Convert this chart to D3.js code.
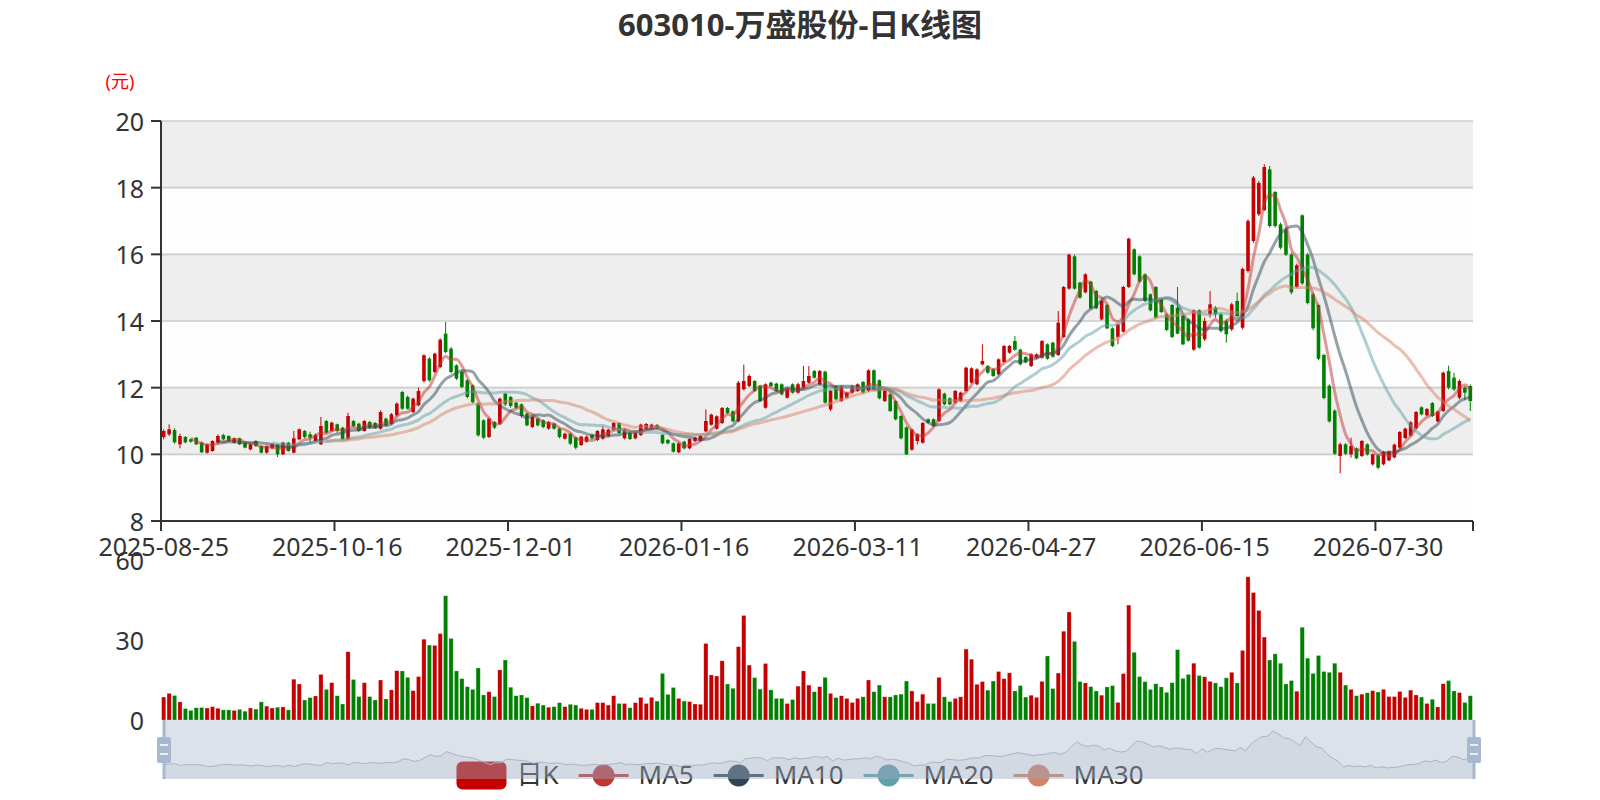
<!DOCTYPE html>
<html>
<head>
<meta charset="utf-8">
<script src="https://cdn.jsdelivr.net/npm/d3@7"></script>
<style>
  body { margin: 0; background: #fff; }
  svg { display: block; }
  text { font-family: 'Noto Sans', 'Noto Sans CJK SC', sans-serif; }
</style>
</head>
<body>
<svg id="chart"></svg>
<script>
const chartTitle = '603010-万盛股份-日K线图';
const priceUnit = '(元)';
const firstDay = '2025-08-25';
const marketHolidays = [
    '2025-10-01', '2025-10-02', '2025-10-03', '2025-10-06', '2025-10-07', '2025-10-08',
    '2026-01-01', '2026-01-02',
    '2026-02-16', '2026-02-17', '2026-02-18', '2026-02-19', '2026-02-20', '2026-02-23',
    '2026-04-06', '2026-05-01', '2026-05-04', '2026-05-05', '2026-06-19'
];

// one row per trading day: [open, close, low, high]
const candles = [
    [10.52,10.70,10.45,10.75],[10.60,10.75,10.55,10.90],[10.73,10.36,10.32,10.78],[10.30,10.55,10.18,10.62],
    [10.52,10.36,10.33,10.55],[10.45,10.38,10.35,10.48],[10.50,10.30,10.28,10.52],[10.35,10.06,10.04,10.38],
    [10.05,10.30,10.02,10.32],[10.10,10.40,10.08,10.42],[10.35,10.55,10.30,10.60],[10.58,10.45,10.42,10.62],
    [10.55,10.40,10.38,10.57],[10.35,10.48,10.33,10.50],[10.48,10.30,10.28,10.50],[10.35,10.20,10.18,10.37],
    [10.15,10.30,10.12,10.32],[10.40,10.25,10.22,10.42],[10.25,10.05,10.03,10.27],[10.05,10.25,10.02,10.27],
    [10.18,10.30,10.15,10.33],[10.30,10.00,9.92,10.32],[10.00,10.35,9.98,10.38],[10.35,10.10,10.08,10.37],
    [10.05,10.48,10.03,10.70],[10.45,10.75,10.42,10.78],[10.70,10.52,10.48,10.73],[10.60,10.50,10.35,10.68],
    [10.40,10.58,10.38,10.62],[10.30,10.85,10.28,11.12],[11.00,10.65,10.62,11.03],[10.70,10.95,10.68,10.98],
    [10.90,10.70,10.65,10.92],[10.80,10.45,10.42,10.83],[10.45,11.15,10.42,11.25],[11.00,10.85,10.80,11.03],
    [10.92,10.70,10.68,10.95],[10.70,11.00,10.68,11.03],[10.97,10.80,10.76,11.00],[10.94,10.80,10.77,10.97],
    [10.77,11.27,10.74,11.32],[11.07,10.87,10.84,11.10],[10.92,11.20,10.89,11.24],[11.17,11.52,11.14,11.56],
    [11.87,11.37,11.33,11.90],[11.72,11.37,11.34,11.76],[11.27,11.67,11.24,11.70],[11.47,11.90,11.44,12.00],
    [12.20,12.97,12.15,13.00],[12.87,12.22,12.18,12.92],[12.47,13.02,12.43,13.05],[12.62,13.44,12.58,13.48],
    [13.62,13.07,13.03,13.97],[13.17,12.47,12.43,13.22],[12.67,12.27,12.23,12.70],[12.47,12.02,11.98,12.52],
    [12.22,11.72,11.68,12.26],[12.07,11.57,11.52,12.10],[11.52,10.57,10.53,11.56],[11.02,10.50,10.46,11.05],
    [10.52,11.07,10.49,11.10],[10.97,10.80,10.76,11.00],[10.92,11.67,10.88,11.70],[11.82,11.50,11.45,11.85],
    [11.72,11.45,11.40,11.75],[11.55,11.40,11.36,11.58],[11.50,11.15,11.10,11.53],[11.22,10.87,10.84,11.25],
    [10.82,11.12,10.79,11.15],[11.07,10.87,10.84,11.10],[11.02,10.82,10.78,11.05],[10.77,10.97,10.74,11.00],
    [10.92,10.77,10.74,10.95],[10.77,10.52,10.48,10.80],[10.47,10.62,10.44,10.65],[10.62,10.32,10.28,10.65],
    [10.50,10.20,10.15,10.53],[10.28,10.53,10.25,10.56],[10.38,10.53,10.35,10.56],[10.58,10.48,10.45,10.61],
    [10.43,10.70,10.40,10.73],[10.47,10.75,10.44,10.85],[10.55,10.74,10.52,10.77],[10.74,10.94,10.71,10.97],
    [10.94,10.64,10.60,10.97],[10.48,10.74,10.45,10.77],[10.66,10.46,10.43,10.69],[10.48,10.66,10.45,10.69],
    [10.58,10.89,10.55,10.92],[10.77,10.91,10.74,10.94],[10.77,10.89,10.74,10.92],[10.88,10.78,10.75,10.91],
    [10.58,10.33,10.30,10.61],[10.43,10.33,10.30,10.46],[10.33,10.08,10.05,10.36],[10.06,10.33,10.03,10.36],
    [10.38,10.18,10.15,10.41],[10.18,10.46,10.15,10.49],[10.40,10.50,10.37,10.53],[10.40,10.56,10.37,10.59],
    [10.69,11.00,10.66,11.35],[10.89,11.19,10.86,11.22],[10.77,11.14,10.74,11.17],[10.94,11.39,10.91,11.42],
    [11.39,11.24,11.21,11.42],[11.29,10.99,10.96,11.32],[10.99,12.15,10.96,12.20],[11.95,12.20,11.92,12.69],
    [12.05,12.35,12.02,12.40],[12.20,11.90,11.87,12.23],[12.05,11.60,11.57,12.08],[11.40,12.10,11.37,12.13],
    [12.15,12.05,12.02,12.18],[12.12,11.90,11.87,12.15],[12.10,11.80,11.77,12.13],[11.70,11.95,11.67,11.98],
    [12.10,11.85,11.82,12.13],[11.85,12.10,11.82,12.15],[12.00,12.20,11.97,12.65],[12.15,12.35,12.12,12.65],
    [12.50,12.30,12.27,12.53],[12.10,12.50,12.07,12.53],[12.48,11.55,11.52,12.51],[11.35,11.90,11.30,11.93],
    [12.05,11.65,11.62,12.08],[11.60,12.05,11.57,12.08],[11.70,11.85,11.67,11.88],[11.85,12.05,11.82,12.08],
    [11.90,12.10,11.87,12.13],[12.17,11.85,11.82,12.20],[11.90,12.52,11.87,12.55],[12.52,11.95,11.92,12.55],
    [12.22,11.68,11.65,12.25],[11.60,11.90,11.57,11.93],[11.80,11.30,11.27,11.83],[11.60,11.05,11.02,11.63],
    [11.15,10.48,10.45,11.18],[10.81,10.00,9.98,10.84],[10.14,10.74,10.11,10.77],[10.40,10.60,10.30,10.63],
    [10.35,10.94,10.32,10.97],[11.05,10.95,10.92,11.08],[11.05,10.85,10.82,11.08],[11.00,11.95,10.97,11.98],
    [11.82,11.50,11.47,11.85],[11.68,11.50,11.47,11.71],[11.55,11.90,11.52,11.93],[11.60,11.85,11.57,11.88],
    [11.90,12.60,11.87,12.63],[12.15,12.58,12.12,12.61],[12.10,12.55,12.07,12.58],[12.70,12.80,12.67,13.30],
    [12.65,12.45,12.42,12.68],[12.55,12.35,12.32,12.58],[12.40,12.85,12.37,12.88],[12.77,13.25,12.74,13.28],
    [13.05,13.25,13.02,13.28],[13.40,13.14,13.11,13.55],[13.14,12.70,12.67,13.17],[12.92,12.76,12.73,12.95],
    [12.65,13.00,12.62,13.03],[12.90,13.00,12.87,13.03],[12.90,13.40,12.87,13.43],[13.30,12.87,12.84,13.33],
    [13.35,12.93,12.90,13.38],[12.98,13.95,12.95,14.30],[13.52,15.02,13.49,15.05],[14.97,15.99,14.94,16.02],
    [15.94,14.97,14.94,15.99],[15.15,14.70,14.67,15.18],[14.86,15.40,14.83,15.43],[15.18,14.38,14.35,15.21],
    [14.90,14.38,14.35,14.93],[14.05,14.60,14.02,14.63],[14.48,13.78,13.75,14.51],[13.78,13.25,13.22,13.81],
    [13.52,13.90,13.30,13.93],[13.68,15.02,13.65,15.05],[15.02,16.47,14.99,16.50],[16.15,15.40,15.37,16.18],
    [15.94,15.18,15.15,15.97],[15.40,14.60,14.57,15.43],[14.80,14.32,14.29,14.83],[15.02,14.10,14.07,15.05],
    [14.65,14.27,14.24,14.68],[14.20,13.73,13.70,14.23],[14.48,13.52,13.49,14.51],[14.40,13.62,13.60,15.02],
    [14.16,13.30,13.27,14.19],[14.05,13.41,13.38,14.08],[13.14,14.32,13.11,14.35],[14.32,13.20,13.17,14.35],
    [13.45,14.00,13.40,14.10],[14.20,14.50,14.10,14.90],[14.40,14.20,14.10,14.45],[14.20,13.70,13.65,14.25],
    [14.00,13.60,13.35,14.05],[13.75,14.50,13.70,14.55],[14.60,14.15,14.10,14.85],[13.80,15.56,13.75,15.60],
    [15.50,17.00,15.45,17.05],[16.40,18.30,16.35,18.35],[17.20,18.14,17.15,18.20],[17.33,18.62,17.30,18.70],
    [18.55,16.85,16.80,18.65],[17.87,16.85,16.80,17.90],[16.90,16.20,16.15,16.95],[16.74,15.99,15.95,16.80],
    [15.99,14.86,14.80,16.05],[15.02,15.67,14.98,15.72],[17.17,15.13,15.08,17.20],[15.99,14.54,14.50,16.05],
    [14.80,13.78,13.72,14.85],[14.48,12.87,12.82,14.52],[12.98,11.69,11.65,13.02],[12.06,10.99,10.95,12.10],
    [11.31,10.02,9.98,11.35],[9.95,10.30,9.43,10.35],[10.30,10.02,9.98,10.34],[10.00,10.25,9.90,10.50],
    [10.18,9.88,9.85,10.21],[9.95,10.40,9.92,10.43],[10.30,10.00,9.96,10.33],[9.70,10.00,9.66,10.03],
    [9.97,9.60,9.55,10.00],[9.70,10.07,9.67,10.10],[9.82,10.08,9.79,10.11],[9.91,10.29,9.88,10.32],
    [10.20,10.67,10.17,10.70],[10.49,10.77,10.46,10.80],[10.56,10.96,10.53,10.99],[10.78,11.27,10.75,11.30],
    [11.41,11.20,11.17,11.44],[11.17,11.36,11.14,11.39],[11.54,11.15,11.12,11.57],[10.99,11.28,10.96,11.31],
    [11.30,12.45,11.27,12.48],[12.50,12.00,11.95,12.66],[12.30,11.95,11.90,12.45],[11.70,12.20,11.65,12.25],
    [12.00,11.85,11.62,12.05],[12.05,11.60,11.30,12.10]
];

const volumes = [
    8.6, 10, 9.2, 6.8, 4.3, 3.6, 4.6, 4.7, 4.5, 5,
    4.4, 3.8, 3.8, 3.6, 4, 3.3, 4.5, 4.1, 6.8, 5.2,
    4.5, 4.8, 4.9, 3.8, 15.3, 13.5, 7.5, 8.4, 9, 17.1,
    11.5, 14, 9.1, 6, 25.6, 15.2, 8.8, 14, 8.8, 7.5,
    15, 7.9, 11.3, 18.5, 18.4, 16, 11, 16.3, 30.3, 28.1,
    28, 32.4, 46.6, 30.6, 18.4, 15.5, 12.5, 11.5, 19.5, 9.4,
    10.6, 8.8, 18.8, 22.5, 12.3, 9.1, 9.4, 8.4, 5.3, 6.3,
    5.6, 4.8, 5, 6.5, 5, 5.9, 5.6, 4.4, 4, 4,
    6.5, 6.5, 5.6, 9.1, 6.2, 6.2, 4.6, 6.5, 8.5, 6.2,
    8.5, 7.1, 17.5, 9.6, 12.2, 8.1, 7.1, 6.9, 6, 5.9,
    28.7, 16.9, 16.5, 22.2, 13.5, 11.9, 27.5, 39.2, 20.6, 15.9,
    11.6, 21.2, 11.3, 8.1, 8.1, 6.2, 7.7, 12.7, 18.4, 13.1,
    10.6, 12.5, 16, 10, 8.4, 9.1, 8.1, 6.6, 8.1, 8.7,
    15, 10.6, 13.1, 8.7, 8.7, 9.4, 9.7, 14.6, 10.9, 6.9,
    9.7, 6.2, 6.2, 16, 8.7, 6.9, 8.1, 8.7, 26.6, 22.8,
    13.4, 14.4, 11.2, 14.6, 18.2, 15.5, 17.7, 10.9, 12.9, 8.6,
    9.3, 8.5, 14.5, 24, 11.8, 17.6, 33.3, 40.5, 29.5, 14.4,
    13.9, 12.5, 10.9, 9.3, 12.4, 12.9, 6.6, 17.4, 43.1, 25.4,
    16.3, 14.4, 11.5, 13.6, 12.4, 10.4, 14, 26.4, 15.6, 17.1,
    21.3, 16.7, 16.2, 14.5, 13.9, 12.5, 15.8, 17.9, 13.9, 26.1,
    53.7, 47.8, 41.1, 31.1, 22.5, 24.8, 21.3, 13.5, 14.8, 10.8,
    34.8, 23.2, 17.5, 24.2, 18.2, 17.9, 21.3, 17.9, 13.1, 11.5,
    9.1, 9.7, 10.2, 11, 10.5, 11.5, 8.8, 8.8, 10.7, 8.5,
    11.2, 9.4, 8.6, 6.2, 7.8, 4.9, 13.6, 14.8, 10.9, 10.3,
    6.6, 9.1
];

const maPeriods = [5, 10, 20, 30];
const maNames = ['MA5', 'MA10', 'MA20', 'MA30'];
const maColors = ['#c23531', '#2f4554', '#61a0a8', '#d48265'];
const priceTicks = [8, 10, 12, 14, 16, 18, 20];
const volumeTicks = [0, 30, 60];
const labelEvery = 32;

const upColor = '#c40000';
const downColor = '#008000';

const width = 1600;
const height = 800;
const grid = {left: 161, right: 1473, top: 121, bottom: 521};
const volGrid = {top: 560, bottom: 720};
const slider = {left: 164, right: 1474, top: 720, bottom: 779};

// trading calendar (weekdays minus exchange holidays)
const formatDay = d3.utcFormat('%Y-%m-%d');
const days = [];
for (let d = new Date(firstDay + 'T00:00:00Z'); days.length < candles.length; d.setUTCDate(d.getUTCDate() + 1)) {
    const wd = d.getUTCDay();
    const s = formatDay(d);
    if (wd !== 0 && wd !== 6 && !marketHolidays.includes(s)) days.push(s);
}

const closes = candles.map(c => c[1]);

function movingAverage(n) {
    return closes.map((c, i) => {
        if (i < n) return null;
        return d3.mean(closes.slice(i - n + 1, i + 1));
    });
}

const svg = d3.select('#chart')
    .attr('width', width)
    .attr('height', height);

const x = d3.scaleBand()
    .domain(d3.range(candles.length))
    .range([grid.left, grid.right]);
const cx = i => x(i) + x.bandwidth() / 2;

const y = d3.scaleLinear()
    .domain([priceTicks[0], priceTicks[priceTicks.length - 1]])
    .range([grid.bottom, grid.top]);

const yVol = d3.scaleLinear()
    .domain([0, 60])
    .range([volGrid.bottom, volGrid.top]);

// title
svg.append('text')
    .attr('x', width / 2)
    .attr('y', 24)
    .attr('text-anchor', 'middle')
    .attr('dominant-baseline', 'central')
    .style('font-size', '31px')
    .style('font-weight', 'bold')
    .style('fill', '#333')
    .text(chartTitle);

svg.append('text')
    .attr('x', 120)
    .attr('y', 81)
    .attr('text-anchor', 'middle')
    .attr('dominant-baseline', 'central')
    .style('font-size', '18px')
    .style('fill', '#f00')
    .text(priceUnit);

// split areas and split lines
const bands = svg.append('g');
priceTicks.slice(0, -1).forEach((t, k) => {
    bands.append('rect')
        .attr('x', grid.left)
        .attr('y', y(priceTicks[k + 1]))
        .attr('width', grid.right - grid.left)
        .attr('height', y(t) - y(priceTicks[k + 1]))
        .attr('fill', k % 2 === 0 ? 'rgba(250,250,250,0.3)' : 'rgba(200,200,200,0.3)');
});
bands.selectAll('line')
    .data(priceTicks.slice(1))
    .enter().append('line')
        .attr('x1', grid.left)
        .attr('x2', grid.right)
        .attr('y1', d => y(d))
        .attr('y2', d => y(d))
        .attr('stroke', '#ccc')
        .attr('stroke-width', 1.6);

// candles
const bodyWidth = 3.6;
const candle = svg.append('g').selectAll('g')
    .data(candles)
    .enter().append('g')
        .attr('fill', d => d[1] >= d[0] ? upColor : downColor)
        .attr('stroke', d => d[1] >= d[0] ? upColor : downColor);

candle.append('line')
    .attr('x1', (d, i) => cx(i))
    .attr('x2', (d, i) => cx(i))
    .attr('y1', d => y(d[3]))
    .attr('y2', d => y(d[2]))
    .attr('stroke-width', 1);

candle.append('rect')
    .attr('x', (d, i) => cx(i) - bodyWidth / 2)
    .attr('y', d => y(Math.max(d[0], d[1])))
    .attr('width', bodyWidth)
    .attr('height', d => Math.max(1, Math.abs(y(d[0]) - y(d[1]))))
    .attr('stroke', 'none');

// moving averages
const maLine = d3.line()
    .defined(d => d[1] != null)
    .x(d => cx(d[0]))
    .y(d => y(d[1]))
    .curve(d3.curveMonotoneX);

maPeriods.forEach((n, k) => {
    const values = movingAverage(n).map((v, i) => [i, v]);
    svg.append('path')
        .datum(values)
        .attr('d', maLine)
        .attr('fill', 'none')
        .attr('stroke', maColors[k])
        .attr('stroke-width', 3)
        .attr('stroke-opacity', 0.5);
});

// price axes
const axisColor = '#333';
svg.append('line')
    .attr('x1', grid.left).attr('x2', grid.left)
    .attr('y1', grid.top).attr('y2', grid.bottom)
    .attr('stroke', axisColor).attr('stroke-width', 2);

const yTicks = svg.append('g').selectAll('g')
    .data(priceTicks)
    .enter().append('g');
yTicks.append('line')
    .attr('x1', grid.left - 10).attr('x2', grid.left)
    .attr('y1', d => y(d)).attr('y2', d => y(d))
    .attr('stroke', axisColor).attr('stroke-width', 2);
yTicks.append('text')
    .attr('x', grid.left - 17)
    .attr('y', d => y(d))
    .attr('text-anchor', 'end')
    .attr('dominant-baseline', 'central')
    .style('font-size', '25px')
    .style('fill', axisColor)
    .text(d => d);

svg.append('line')
    .attr('x1', grid.left - 1).attr('x2', grid.right)
    .attr('y1', grid.bottom).attr('y2', grid.bottom)
    .attr('stroke', axisColor).attr('stroke-width', 2);

const labelIdx = d3.range(0, candles.length, labelEvery);
svg.append('g').selectAll('line')
    .data(labelIdx.concat([candles.length]))
    .enter().append('line')
        .attr('x1', i => grid.left + i * x.step())
        .attr('x2', i => grid.left + i * x.step())
        .attr('y1', grid.bottom)
        .attr('y2', grid.bottom + 10)
        .attr('stroke', axisColor)
        .attr('stroke-width', 2);

svg.append('g').selectAll('text')
    .data(labelIdx)
    .enter().append('text')
        .attr('x', i => cx(i))
        .attr('y', grid.bottom + 25)
        .attr('text-anchor', 'middle')
        .attr('dominant-baseline', 'central')
        .style('font-size', '25px')
        .style('fill', axisColor)
        .text(i => days[i]);

// volume bars
const volBarWidth = 4.2;
svg.append('g').selectAll('rect')
    .data(volumes)
    .enter().append('rect')
        .attr('x', (d, i) => cx(i) - volBarWidth / 2)
        .attr('y', d => yVol(d))
        .attr('width', volBarWidth)
        .attr('height', d => yVol(0) - yVol(d))
        .attr('fill', (d, i) => candles[i][1] >= candles[i][0] ? upColor : downColor)
        .attr('stroke', 'rgba(255,255,255,0.45)')
        .attr('stroke-width', 0.6);

svg.append('g').selectAll('text')
    .data(volumeTicks)
    .enter().append('text')
        .attr('x', grid.left - 17)
        .attr('y', d => yVol(d))
        .attr('text-anchor', 'end')
        .attr('dominant-baseline', 'central')
        .style('font-size', '25px')
        .style('fill', axisColor)
        .text(d => d);

// legend (drawn before the slider, which sits over it)
const legend = svg.append('g');
const legendItems = [{name: '日K', color: upColor, candle: true}]
    .concat(maNames.map((name, k) => ({name, color: maColors[k]})));
const legendY = 775.5;
const iconW = 50, iconH = 28;
const items = legendItems.map(item => {
    const g = legend.append('g');
    const t = g.append('text')
        .attr('x', iconW + 10)
        .attr('y', legendY - 2)
        .attr('dominant-baseline', 'central')
        .style('font-size', '26px')
        .style('fill', axisColor)
        .text(item.name);
    if (item.candle) {
        g.append('rect')
            .attr('x', 0).attr('y', legendY - iconH / 2)
            .attr('width', iconW).attr('height', iconH)
            .attr('rx', 6)
            .attr('fill', item.color);
    } else {
        g.append('line')
            .attr('x1', 0).attr('x2', iconW)
            .attr('y1', legendY).attr('y2', legendY)
            .attr('stroke', item.color).attr('stroke-width', 3);
        g.append('circle')
            .attr('cx', iconW / 2).attr('cy', legendY)
            .attr('r', 11)
            .attr('fill', item.color);
    }
    return {g, w: iconW + 10 + t.node().getComputedTextLength()};
});
const legendGap = 20;
const legendTotal = d3.sum(items, d => d.w) + legendGap * (items.length - 1);
let lx = width / 2 - legendTotal / 2;
items.forEach(it => {
    it.g.attr('transform', `translate(${lx},0)`);
    lx += it.w + legendGap;
});

// data zoom slider
const opens = candles.map(c => c[0]);
const openExtent = d3.extent(opens);
const pad = (openExtent[1] - openExtent[0]) * 0.3;
const sx = d3.scaleLinear().domain([0, candles.length - 1]).range([slider.left, slider.right]);
const sy = d3.scaleLinear()
    .domain([openExtent[0] - pad, openExtent[1] + pad])
    .range([slider.bottom, slider.top]);

const zoomG = svg.append('g');
zoomG.append('path')
    .datum(opens)
    .attr('d', d3.area().x((d, i) => sx(i)).y0(slider.bottom).y1(d => sy(d)))
    .attr('fill', 'rgba(47,69,84,0.08)');
zoomG.append('path')
    .datum(opens)
    .attr('d', d3.line().x((d, i) => sx(i)).y(d => sy(d)))
    .attr('fill', 'none')
    .attr('stroke', '#a9b2c2')
    .attr('stroke-width', 1);
zoomG.append('rect')
    .attr('x', slider.left)
    .attr('y', slider.top)
    .attr('width', slider.right - slider.left)
    .attr('height', slider.bottom - slider.top)
    .attr('fill', 'rgba(167,183,203,0.4)');

[slider.left, slider.right].forEach(hx => {
    const h = zoomG.append('g');
    h.append('line')
        .attr('x1', hx).attr('x2', hx)
        .attr('y1', slider.top).attr('y2', slider.bottom)
        .attr('stroke', '#a7b7cc').attr('stroke-width', 3);
    h.append('rect')
        .attr('x', hx - 7).attr('y', 737)
        .attr('width', 14).attr('height', 26)
        .attr('rx', 2)
        .attr('fill', '#a7b8cf');
    [745, 754].forEach(ly => {
        h.append('line')
            .attr('x1', hx - 4).attr('x2', hx + 4)
            .attr('y1', ly).attr('y2', ly)
            .attr('stroke', '#fff').attr('stroke-width', 1.5);
    });
});
</script>
</body>
</html>
